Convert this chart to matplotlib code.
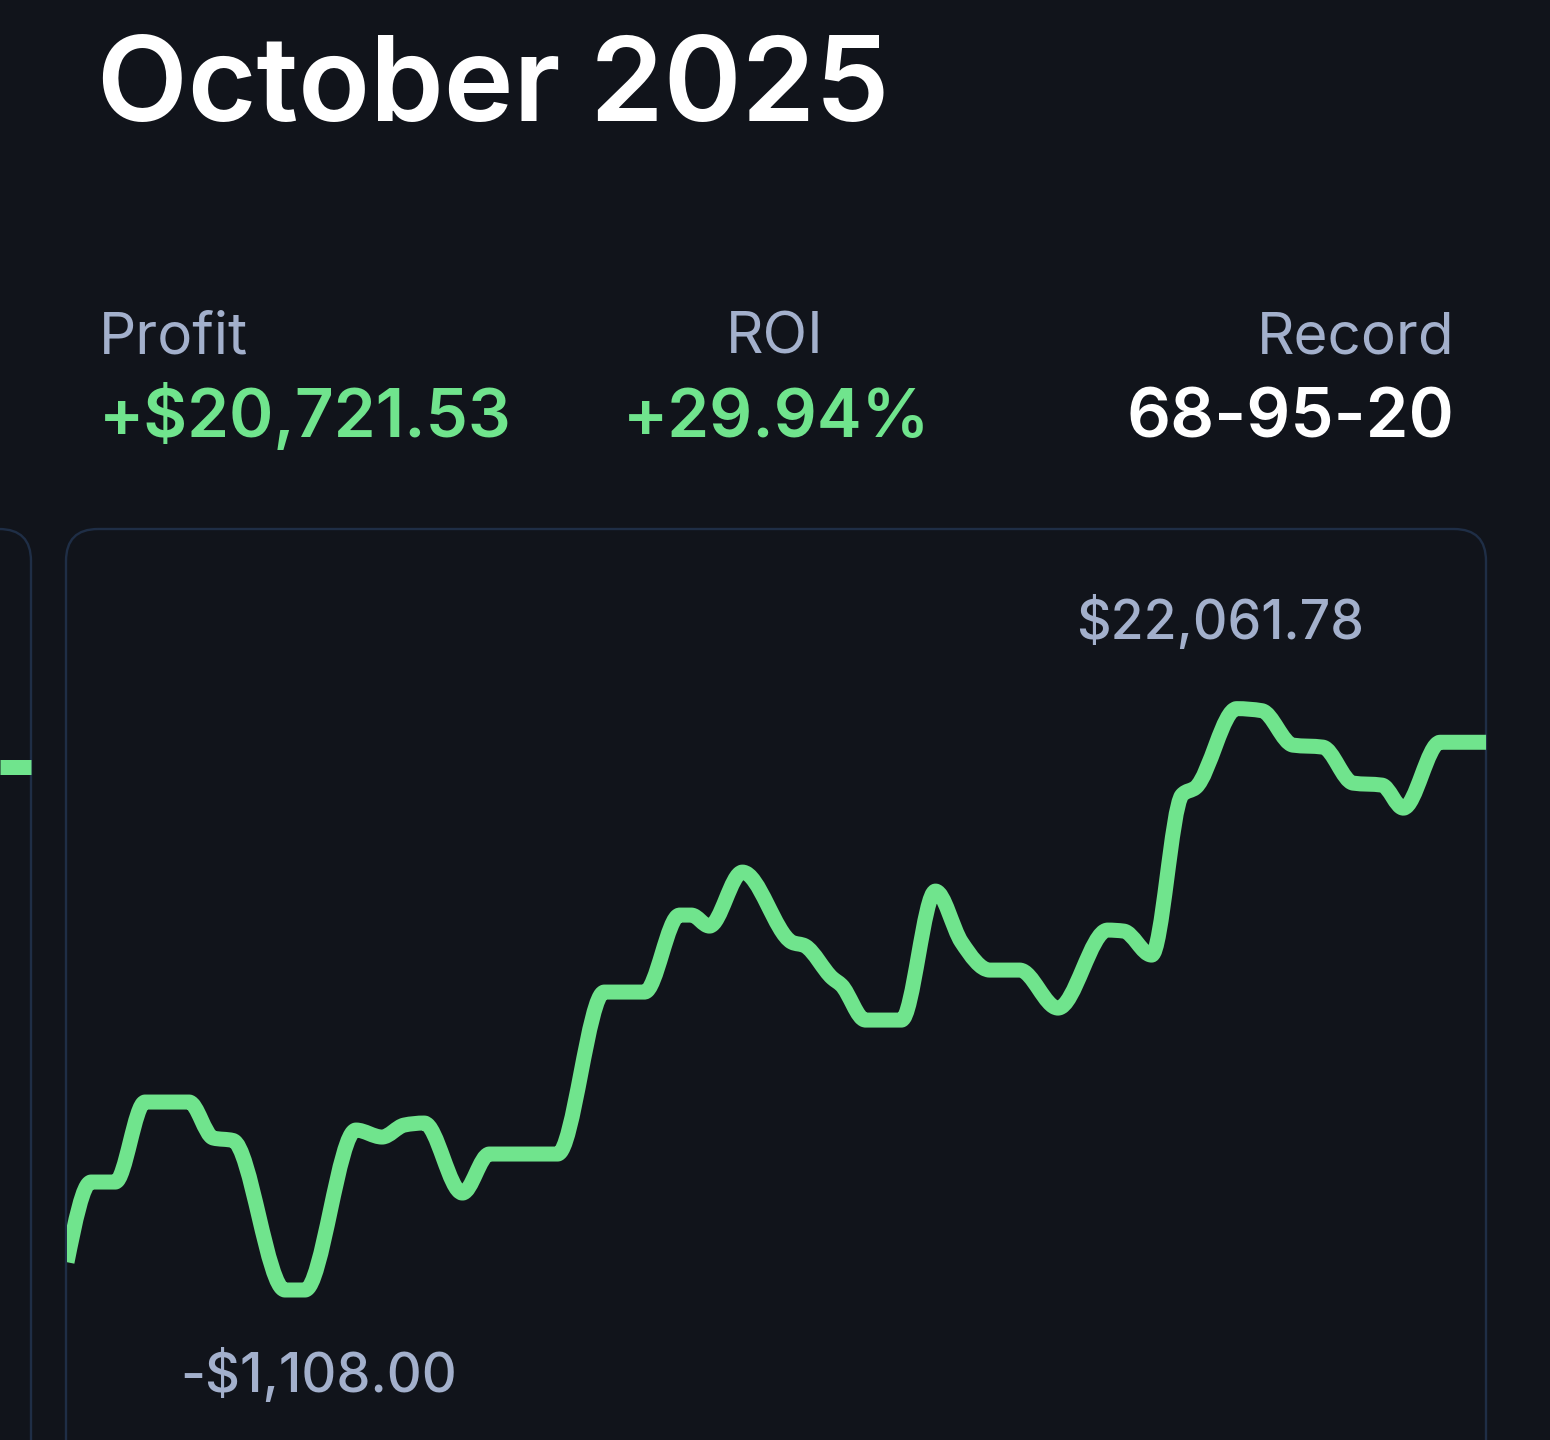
import numpy as np
import matplotlib
matplotlib.use("Agg")
import matplotlib.pyplot as plt
from matplotlib.path import Path
from matplotlib.patches import PathPatch, FancyBboxPatch

# ---------------- data ----------------
title = "October 2025"
stat_labels = ["Profit", "ROI", "Record"]
roi_pct = 29.94
record = "68-95-20"

# cumulative profit through the month (day of month, $)
days = [1.00, 1.51, 2.02, 2.65, 3.58, 4.09, 4.51, 5.61, 6.03, 7.11, 7.66, 8.13,
        8.55, 9.36, 9.93, 11.37, 12.36, 13.21, 13.95, 14.20, 14.58, 15.28, 16.32,
        16.61, 17.18, 17.37, 17.88, 18.64, 19.36, 19.91, 20.51, 21.14, 21.95, 23.00,
        23.34, 23.93, 24.57, 24.87, 25.73, 26.26, 26.92, 27.55, 28.19, 28.80, 29.25,
        30.03, 31.00]
profit = [0.0, 3195, 3195, 6383, 6383, 4950, 4850, -1108.00, -1108.00, 5267, 4988, 5466,
          5546, 2757, 4311, 4311, 10766, 10766, 13834, 13834, 13396, 15547, 12758,
          12599, 11324, 11045, 9650, 9650, 14790, 12758, 11642, 11642, 10128, 13236,
          13196, 12240, 18615, 18934, 22061.78, 21980, 20607, 20528, 19093, 19014, 18097,
          20721.53, 20721.53]

# tail of previous month's card (partially visible at left edge)
prev_days = [30.0, 31.0]
prev_profit = [19731, 19731]

# ---------------- style ----------------
BG = "#11141b"
BORDER = "#1f2e46"
GREEN = "#70e48d"
MUTED = "#a3b0cc"
WHITE = "#ffffff"
FONT = ["Inter", "DejaVu Sans"]

W, H = 1550, 1440
fig = plt.figure(figsize=(W / 100, H / 100), dpi=100, facecolor=BG)

# overlay in pixel units
ov = fig.add_axes([0, 0, 1, 1], zorder=0)
ov.set_xlim(0, W)
ov.set_ylim(H, 0)
ov.axis("off")
ov.set_facecolor(BG)

for (x0, wd) in [(66, 1420), (-1400, 1431)]:
    ov.add_patch(FancyBboxPatch((x0, 529), wd, 1000,
                                boxstyle="round,pad=0,rounding_size=32",
                                fc="none", ec=BORDER, lw=1.7))

ov.text(97, 121, title, color=WHITE, fontsize=85, fontweight="semibold",
        family=FONT, ha="left", va="baseline")

ov.text(99, 353, stat_labels[0], color=MUTED, fontsize=42, family=FONT,
        ha="left", va="baseline")
ov.text(775, 353, stat_labels[1], color=MUTED, fontsize=42, family=FONT,
        ha="center", va="baseline")
ov.text(1454, 353, stat_labels[2], color=MUTED, fontsize=42, family=FONT,
        ha="right", va="baseline")

final = profit[-1]
sign = "+" if final >= 0 else "-"
ov.text(99, 437, f"{sign}${abs(final):,.2f}", color=GREEN, fontsize=48.5,
        fontweight="semibold", family=FONT, ha="left", va="baseline")
ov.text(777, 437, f"+{roi_pct:.2f}%", color=GREEN, fontsize=48.5,
        fontweight="semibold", family=FONT, ha="center", va="baseline")
ov.text(1454, 437, record, color=WHITE, fontsize=49.5,
        fontweight="semibold", family=FONT, ha="right", va="baseline")


# ---------------- monotone curve (d3 curveMonotoneX style) ----------------
def monotone_path(xs, ys):
    xs = np.asarray(xs, float)
    ys = np.asarray(ys, float)
    n = len(xs)
    h = np.diff(xs)
    s = np.diff(ys) / h
    t = np.zeros(n)
    for i in range(1, n - 1):
        h0, h1, s0, s1 = h[i - 1], h[i], s[i - 1], s[i]
        p = (s0 * h1 + s1 * h0) / (h0 + h1)
        t[i] = (np.sign(s0) + np.sign(s1)) * min(abs(s0), abs(s1), 0.5 * abs(p))
    t[0] = (3 * s[0] - t[1]) / 2
    t[-1] = (3 * s[-1] - t[-2]) / 2
    verts = [(xs[0], ys[0])]
    codes = [Path.MOVETO]
    for i in range(n - 1):
        dx = h[i] / 3
        verts += [(xs[i] + dx, ys[i] + dx * t[i]),
                  (xs[i + 1] - dx, ys[i + 1] - dx * t[i + 1]),
                  (xs[i + 1], ys[i + 1])]
        codes += [Path.CURVE4] * 3
    return Path(verts, codes)


pmin, pmax = min(profit), max(profit)
rng = pmax - pmin
ylim = (pmin - 0.258 * rng, pmax + 0.309 * rng)

ax = fig.add_axes([67 / W, 0, (1487 - 67) / W, (H - 529) / H], zorder=2)
ax.set_xlim(days[0], days[-1] + 0.02)
ax.set_ylim(*ylim)
ax.axis("off")
ax.patch.set_alpha(0)
ax.add_patch(PathPatch(monotone_path(days, profit), fc="none", ec=GREEN,
                       lw=10.8, capstyle="butt", joinstyle="round", clip_on=True))

imax = int(np.argmax(profit))
imin = int(np.argmin(profit))
ax.annotate(f"${pmax:,.2f}", xy=(days[imax], pmax), xytext=(-17, 70),
            textcoords="offset pixels", color=MUTED, fontsize=38.5,
            fontweight="medium", family=FONT, ha="center", va="baseline")
ax.annotate(f"-${abs(pmin):,.2f}", xy=(days[imin] + 0.2, pmin), xytext=(24, -102),
            textcoords="offset pixels", color=MUTED, fontsize=39,
            fontweight="medium", family=FONT, ha="center", va="baseline")

# previous month card tail
axp = fig.add_axes([0, 0, 31 / W, (H - 529) / H], zorder=2)
axp.set_xlim(prev_days[0], prev_days[-1])
axp.set_ylim(*ylim)
axp.axis("off")
axp.patch.set_alpha(0)
axp.plot(prev_days, prev_profit, color=GREEN, lw=10.8, solid_capstyle="butt",
         clip_on=False)

fig.savefig("out.png", dpi=100, facecolor=BG)
